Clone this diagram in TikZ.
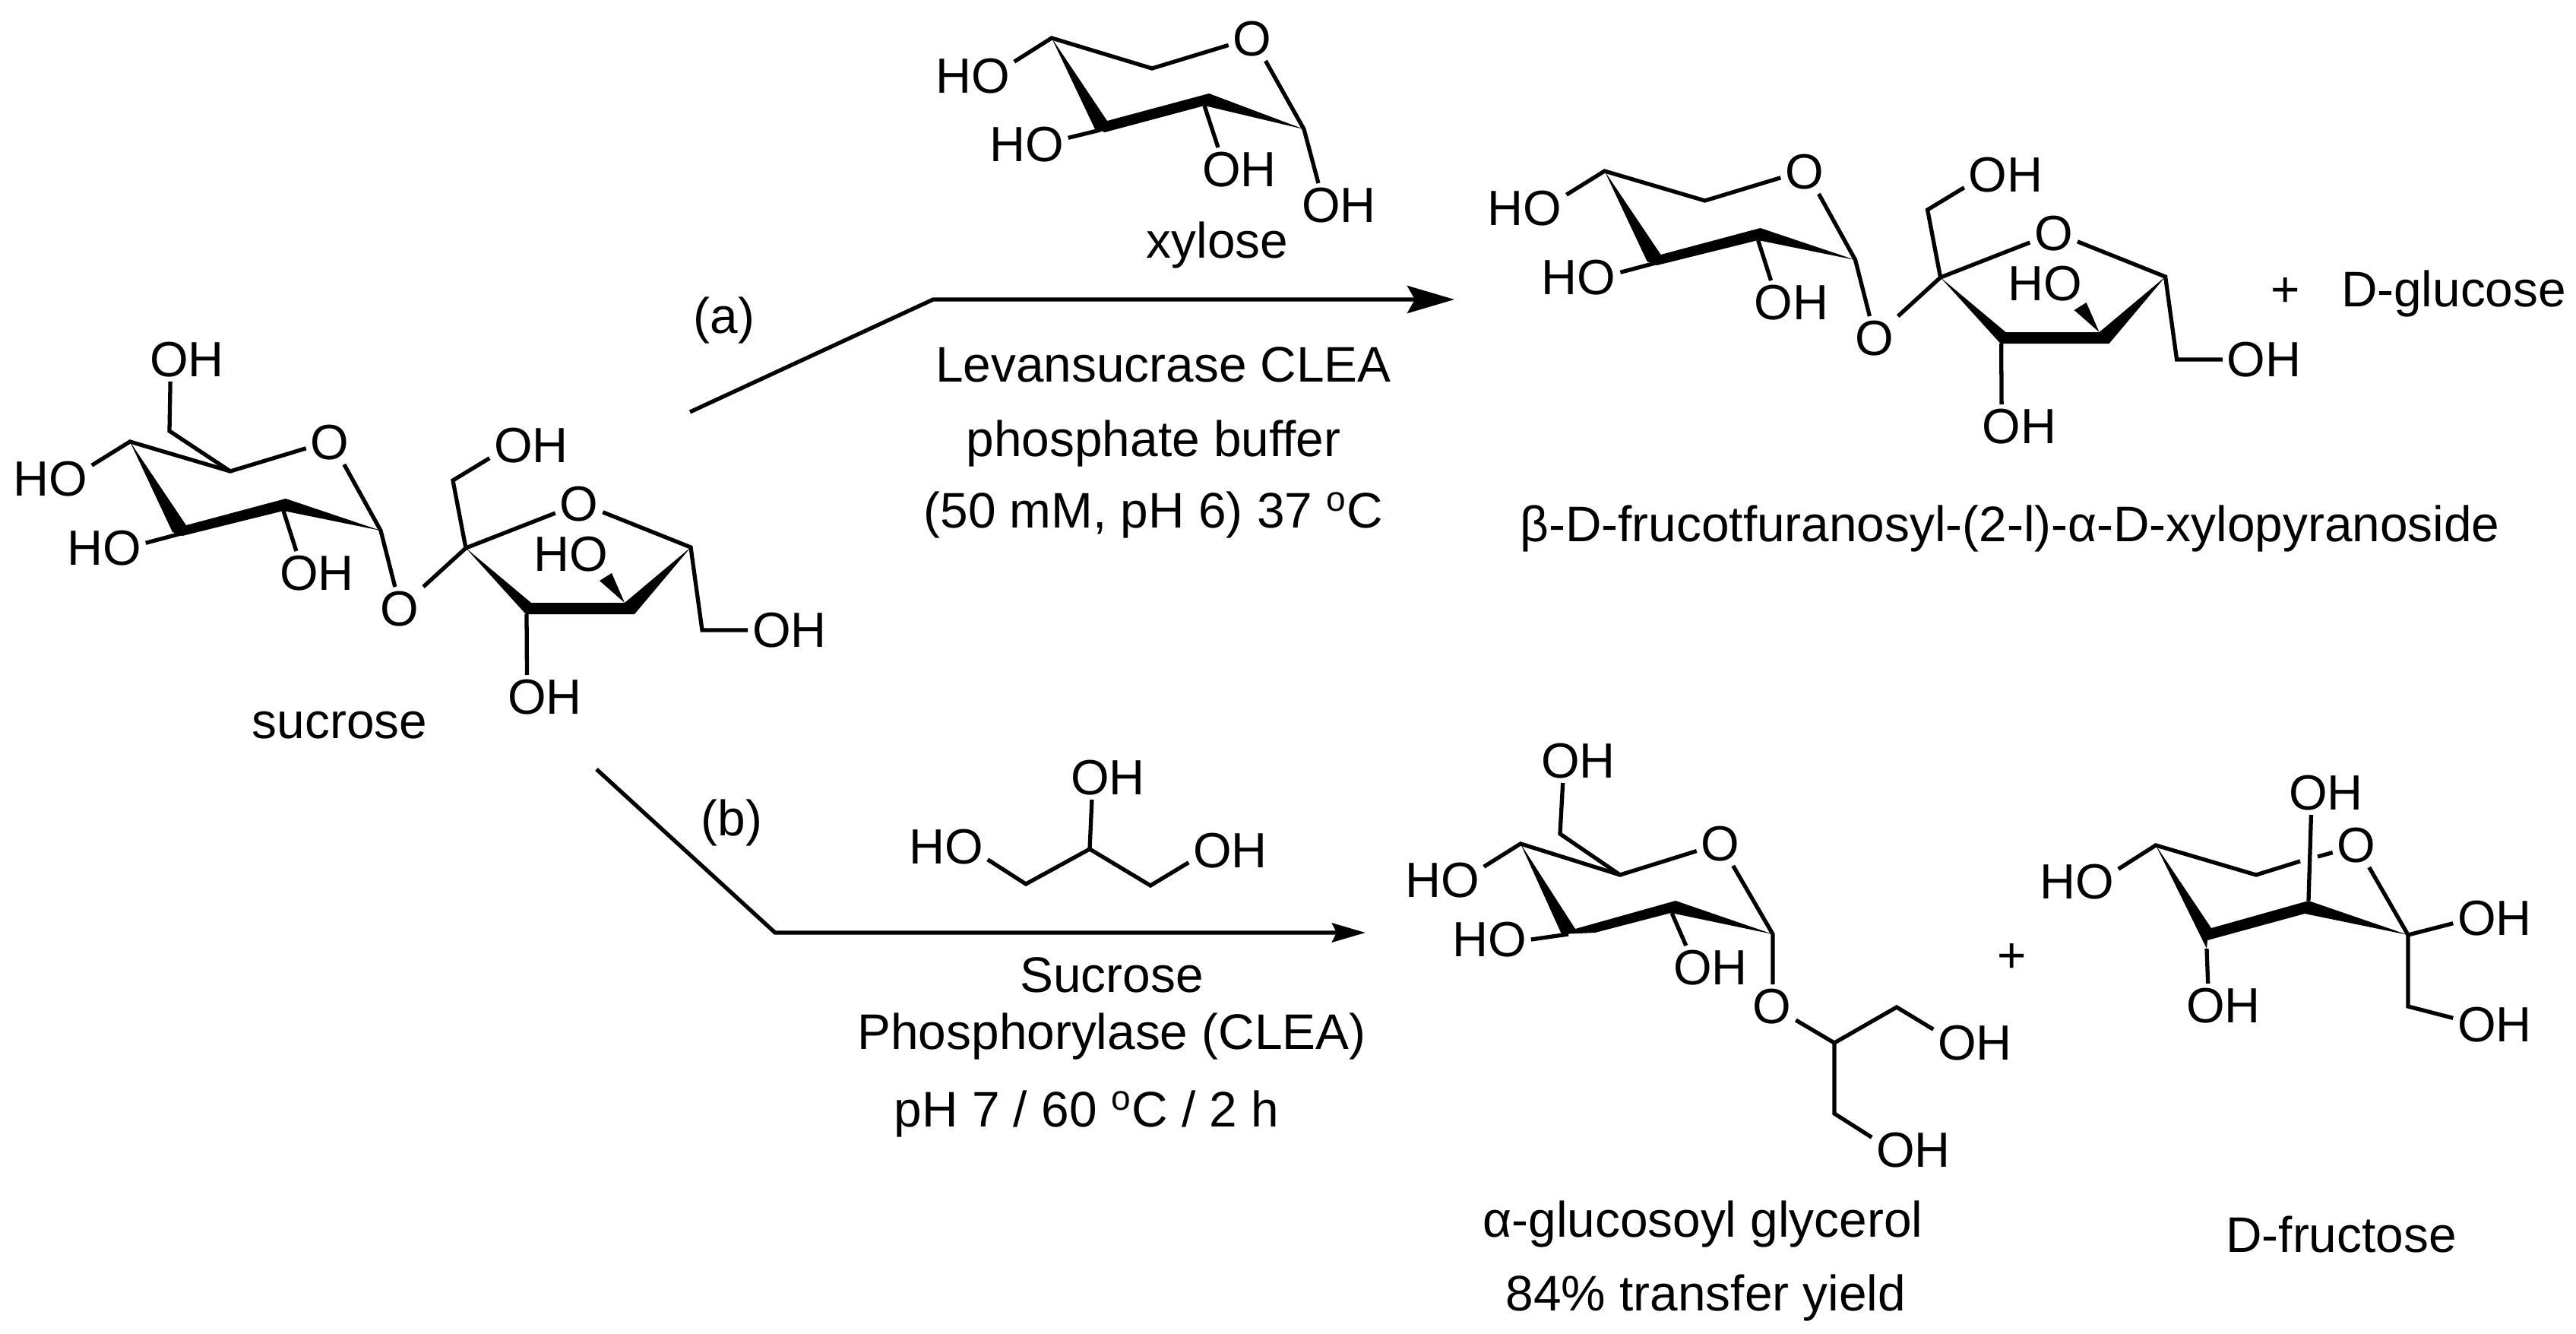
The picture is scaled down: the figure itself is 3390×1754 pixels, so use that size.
\documentclass[tikz,border=0pt]{standalone}
\usepackage{fontspec}
\setmainfont{Liberation Sans}
\usetikzlibrary{arrows.meta,positioning}
\tikzset{
  atom/.style={inner sep=1.5pt, font=\fontsize{18.5}{20}\selectfont},
  txt/.style={inner sep=0pt, anchor=base, font=\fontsize{18.7}{20}\selectfont},
  cond/.style={inner sep=0pt, text height=0.46cm, text depth=0.14cm, font=\fontsize{18.7}{20}\selectfont},
  bond/.style={line width=1.5pt},
  solid wedge/.style={fill=black},
  rxn/.style={line width=1.5pt},
  % xylopyranose and fructofuranose joined through O
  diglycoside/.pic={
    \coordinate (Ca) at (171,581);
    \coordinate (Cb) at (303,620);
    \coordinate (Cc) at (501,698);
    \coordinate (Cd) at (373,672);
    \coordinate (Ce) at (238,702);
    \coordinate (Fa) at (613,721);
    \coordinate (Fb) at (596,632);
    \coordinate (Fc) at (909,720);
    \coordinate (Fd) at (924,829);
    \coordinate (Fe) at (693,808);
    \node[atom] (hoA) at (66,630) {HO};
    \node[atom] (hoB) at (137,721) {HO};
    \node[atom] (ohC) at (417,754) {OH};
    \node[atom] (oRing) at (434,582) {O};
    \node[atom] (oLink) at (526,801) {O};
    \node[atom] (ohD) at (699,586) {OH};
    \node[atom] (oFur) at (762,663) {O};
    \node[atom] (hoE) at (751,729) {HO};
    \node[atom] (ohF) at (1039,829) {OH};
    \node[atom] (ohG) at (717,917) {OH};
    \fill[solid wedge] (Ca) -- (245,691) -- (376,656) -- (Cc) -- (Cd) -- (240,705) -- (227,700) -- cycle;
    \fill[solid wedge] (Fa) -- (699,793) -- (822,793) -- (Fc) -- (835,808) -- (692,808) -- cycle;
    \fill[solid wedge] (822,793) -- (789,764) -- (805,754) -- cycle;
    \draw[bond] (hoA.18) -- (Ca) -- (Cb) -- (oRing.194);
    \draw[bond] (oRing.303) -- (Cc) -- (oLink.102);
    \draw[bond] (Ce) -- (hoB.7);
    \draw[bond] (Cd) -- (ohC.133);
    \draw[bond] (oLink.43) -- (Fa) -- (oFur.201);
    \draw[bond] (Fa) -- (Fb) -- (ohD.197);
    \draw[bond] (oFur.341) -- (Fc) -- (Fd) -- (ohF.180);
    \draw[bond] (Fe) -- (ohG.129);
  }
}

\begin{document}
\begin{tikzpicture}[x=0.01cm, y=-0.01cm]
  \useasboundingbox (0,0) rectangle (3390,1754);

  % sucrose
  \pic (suc) at (0,0) {diglycoside};
  \coordinate (sucCH) at (223,567);
  \node[atom] (sucOH) at (246,473) {OH};
  \draw[bond] (sucCb) -- (sucCH) -- (sucOH.233);
  \node[txt] (sucName) at (447,971) {sucrose};

  % route a
  \coordinate (aStart) at (908,542);
  \coordinate (aBend) at (1228,394);
  \coordinate (aEnd) at (1914,394);
  \draw[rxn, -{Stealth[length=0.62cm, width=0.36cm, inset=0.1cm]}] (aStart) -- (aBend) -- (aEnd);
  \node[txt] (aMark) at (953,438) {(a)};

  % xylose
  \coordinate (xA) at (1384,50);
  \coordinate (xB) at (1516,90);
  \coordinate (xC) at (1716,170);
  \coordinate (xD) at (1585,139);
  \coordinate (xE) at (1448,171);
  \node[atom] (xHoA) at (1280,100) {HO};
  \node[atom] (xHoB) at (1351,190) {HO};
  \node[atom] (xOhC) at (1631,223) {OH};
  \node[atom] (xOhD) at (1762,270) {OH};
  \node[atom] (xO) at (1648,51) {O};
  \fill[solid wedge] (xA) -- (1457,159) -- (1591,123) -- (xC) -- (xD) -- (1454,174) -- (1441,170) -- cycle;
  \draw[bond] (xHoA.19) -- (xA) -- (xB) -- (xO.195);
  \draw[bond] (xO.301) -- (xC) -- (xOhD.133);
  \draw[bond] (xE) -- (xHoB.9);
  \draw[bond] (xD) -- (xOhC.134);
  \node[txt] (xName) at (1602,339) {xylose};

  \node[cond, anchor=base] (enzymeA) at (1531,502) {Levansucrase CLEA};
  \node[cond, below=0.37cm of enzymeA, xshift=-0.13cm] (bufferA) {phosphate buffer};
  \node[cond, below=0.33cm of bufferA] (tempA) {(50 mM, pH 6) 37 \textsuperscript{o}C};

  % product a
  \pic (prod) at (1940.6,-356) {diglycoside};
  \node[txt] (prodName) at (2645,712) {β-D-frucotfuranosyl-(2-l)-α-D-xylopyranoside};
  \node[txt] (plusA) at (3008,403) {+};
  \node[txt] (glucose) at (3229,403) {D-glucose};

  % route b
  \coordinate (bStart) at (785,1012);
  \coordinate (bBend) at (1020,1227);
  \coordinate (bEnd) at (1797,1227);
  \draw[rxn, -{Stealth[length=0.44cm, width=0.25cm, inset=0.06cm]}] (bStart) -- (bBend) -- (bEnd);
  \node[txt] (bMark) at (963,1099) {(b)};

  % glycerol
  \coordinate (gA) at (1350,1163);
  \coordinate (gB) at (1434,1117);
  \coordinate (gC) at (1514,1165);
  \node[atom] (gHoA) at (1245,1114) {HO};
  \node[atom] (gOhB) at (1458,1023) {OH};
  \node[atom] (gOhC) at (1619,1119) {OH};
  \draw[bond] (gHoA.343) -- (gA) -- (gB) -- (gC) -- (gOhC.196);
  \draw[bond] (gB) -- (gOhB.234);

  \node[cond, anchor=base] (enzymeB) at (1463,1305) {Sucrose};
  \node[cond, below=0.14cm of enzymeB] (enzymeC) {Phosphorylase (CLEA)};
  \node[cond, below=0.41cm of enzymeC, xshift=-0.33cm] (tempB) {pH 7 / 60 \textsuperscript{o}C / 2 h};

  % glucosyl glycerol
  \coordinate (pA) at (2001,1110);
  \coordinate (pB) at (2132,1151);
  \coordinate (pC) at (2333,1229);
  \coordinate (pD) at (2200,1201);
  \coordinate (pE) at (2064,1229);
  \coordinate (pF) at (2053,1097);
  \coordinate (pG) at (2414,1372);
  \coordinate (pH) at (2496,1325);
  \coordinate (pI) at (2414,1465);
  \node[atom] (pOhA) at (2077,1001) {OH};
  \node[atom] (pHoB) at (1898,1158) {HO};
  \node[atom] (pHoC) at (1960,1236) {HO};
  \node[atom] (pOhD) at (2251,1273) {OH};
  \node[atom] (pO) at (2264,1110) {O};
  \node[atom] (pLink) at (2332,1324) {O};
  \node[atom] (pOhE) at (2599,1372) {OH};
  \node[atom] (pOhF) at (2518,1513) {OH};
  \fill[solid wedge] (pA) -- (2073,1222) -- (2205,1185) -- (pC) -- (2199,1201) -- (2099,1227) -- (2055,1229) -- cycle;
  \draw[bond] (pHoB.18) -- (pA) -- (pB) -- (pO.197);
  \draw[bond] (pB) -- (pF) -- (pOhA.235);
  \draw[bond] (pO.300) -- (pC) -- (pLink.88);
  \draw[bond] (pE) -- (pHoC.0);
  \draw[bond] (pD) -- (pOhD.138);
  \draw[bond] (pLink.330) -- (pG) -- (pH) -- (pOhE.162);
  \draw[bond] (pG) -- (pI) -- (pOhF.163);
  \node[txt] (pName) at (2241,1627) {α-glucosoyl glycerol};
  \node[txt] (pYield) at (2245,1724) {84\% transfer yield};
  \node[txt] (plusB) at (2648,1279) {+};

  % fructose
  \coordinate (fA) at (2837,1112);
  \coordinate (fB) at (2969,1151);
  \coordinate (fC) at (3169,1230);
  \coordinate (fD) at (3038,1185);
  \coordinate (fE) at (2904,1248);
  \coordinate (fF) at (3169,1324);
  \coordinate (fGapA) at (3027,1133);
  \coordinate (fGapB) at (3050,1127);
  \node[atom] (fHoA) at (2733,1160) {HO};
  \node[atom] (fOhB) at (3061,1043) {OH};
  \node[atom] (fOhC) at (2926,1323) {OH};
  \node[atom] (fO) at (3101,1112) {O};
  \node[atom] (fOhD) at (3283,1208) {OH};
  \node[atom] (fOhE) at (3283,1348) {OH};
  \fill[solid wedge] (fA) -- (2910,1221) -- (3038,1185) -- (fC) -- (3033,1202) -- (2905,1237) -- (fE) -- cycle;
  \draw[bond] (fHoA.17) -- (fA) -- (fB) -- (fGapA);
  \draw[bond] (fGapB) -- (fO.197);
  \draw[bond] (fO.300) -- (fC) -- (fOhD.187);
  \draw[bond] (fC) -- (fF) -- (fOhE.171);
  \draw[bond] (fD) -- (fOhB.236);
  \draw[bond] (fE) -- (fOhC.125);
  \node[txt] (fName) at (3081,1647) {D-fructose};
\end{tikzpicture}
\end{document}
